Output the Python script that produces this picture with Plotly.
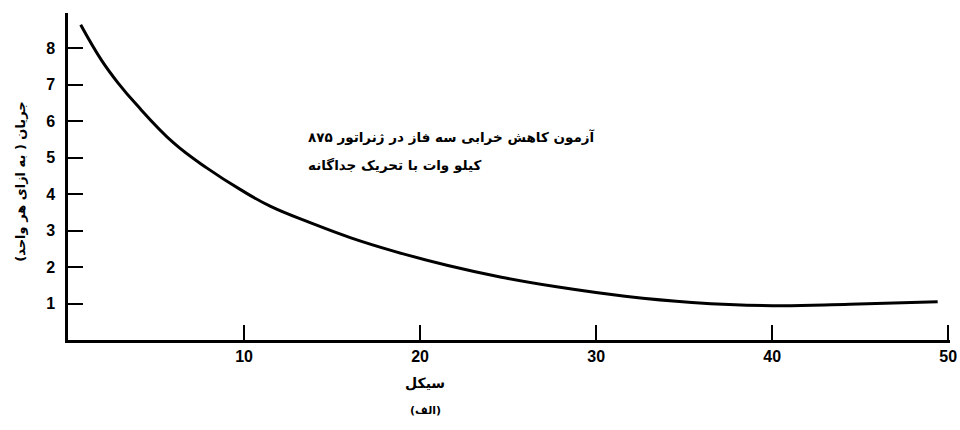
import plotly.graph_objects as go

# Data
cycles = [0.72, 1.9, 2.85, 3.89, 6.0, 7.9, 9.8, 11.51, 13.79, 16.07, 18.54,
          21.58, 24.62, 27.85, 31.64, 35.44, 40.0, 44.4, 49.4]
current = [8.64, 7.67, 7.04, 6.45, 5.40, 4.71, 4.12, 3.66, 3.21, 2.80, 2.43,
           2.04, 1.72, 1.45, 1.20, 1.03, 0.94, 0.98, 1.05]
x_ticks = [10, 20, 30, 40, 50]
y_ticks = [1, 2, 3, 4, 5, 6, 7, 8]

title_line1 = "آزمون کاهش خرابی سه فاز در ژنراتور ۸۷۵"
title_line2 = "کیلو وات با تحریک جداگانه"
y_title = "جریان ( به ازای هر واحد)"
x_title = "سیکل"
caption = "(الف)"

AR = "DejaVu Sans"
NUM = "Liberation Sans"

W, H = 960, 430
L, R, T, B = 68, 10, 13, 89.5
PW = W - L - R
PH = H - T - B


def px_x(px):
    return (px - L) / PW


def px_y(py):
    return (H - B - py) / PH


fig = go.Figure()
fig.add_trace(go.Scatter(
    x=cycles, y=current, mode="lines",
    line=dict(color="black", width=3, shape="spline", smoothing=1.2),
    hoverinfo="skip", showlegend=False))

fig.update_layout(
    width=W, height=H,
    margin=dict(l=L, r=R, t=T, b=B, autoexpand=False),
    paper_bgcolor="white", plot_bgcolor="white",
    xaxis=dict(range=[0, 50.1], tickvals=x_ticks, ticks="inside", ticklen=15,
               tickwidth=2, tickcolor="black", showline=True, linecolor="black",
               linewidth=2.5, showgrid=False, zeroline=False,
               tickfont=dict(family=NUM, size=16, color="black", weight="bold"),
               ticklabelstandoff=0),
    yaxis=dict(range=[0, 8.96], tickvals=y_ticks, ticks="inside", ticklen=15,
               tickwidth=2, tickcolor="black", showline=True, linecolor="black",
               linewidth=2.5, showgrid=False, zeroline=False,
               tickfont=dict(family=NUM, size=16, color="black", weight="bold"),
               ticklabelstandoff=7),
)

for py, txt in [(137, title_line1), (165, title_line2)]:
    fig.add_annotation(x=px_x(306), y=px_y(py), xref="paper", yref="paper",
                       text=txt, showarrow=False, xanchor="left",
                       yanchor="middle",
                       font=dict(family=AR, size=13.5, color="black", weight="bold"))

fig.add_annotation(x=px_x(21), y=px_y(182), xref="paper", yref="paper",
                   text=y_title, textangle=-90, showarrow=False,
                   xanchor="center", yanchor="middle",
                   font=dict(family=AR, size=13, color="black", weight="bold"))
fig.add_annotation(x=px_x(425), y=px_y(384), xref="paper", yref="paper",
                   text=x_title, showarrow=False, xanchor="center", yanchor="middle",
                   font=dict(family=AR, size=14, color="black", weight="bold"))
fig.add_annotation(x=px_x(425), y=px_y(411), xref="paper", yref="paper",
                   text=caption, showarrow=False, xanchor="center", yanchor="middle",
                   font=dict(family=AR, size=11, color="black", weight="bold"))

fig.write_html(
    "out.html",
    config={"displayModeBar": False},
    post_script="document.body.style.margin='0';document.body.style.overflow='hidden';",
)
